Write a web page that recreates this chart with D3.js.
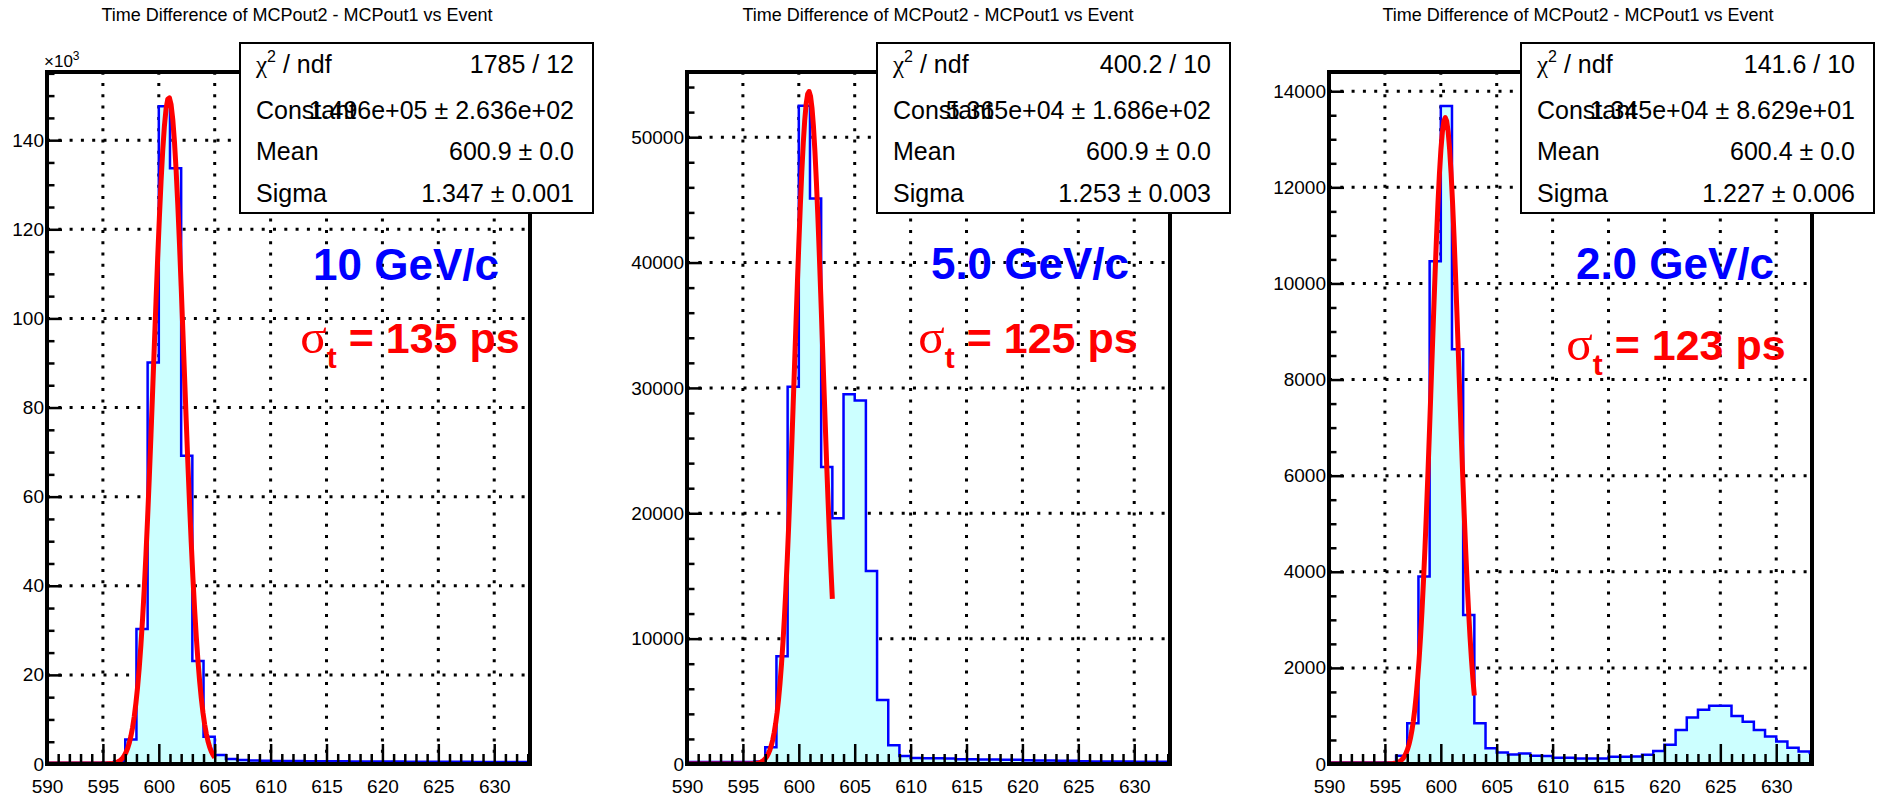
<!DOCTYPE html>
<html>
<head>
<meta charset="utf-8">
<script src="https://cdn.jsdelivr.net/npm/d3@7"></script>
<style>
  body { margin: 0; background: #fff; }
  svg text { font-family: "Liberation Sans", Arial, Helvetica, sans-serif; fill: #000; }
</style>
</head>
<body>
<div id="vis-holder"></div>
<script>
// Canvas size
const width = 1881;
const height = 796;

// ---- Data ----
// bin lower edges (width 1), 590 ... 633
const binEdges = d3.range(590, 634);

// 10 GeV/c
const counts10 = [300, 300, 300, 300, 300, 300, 600,
  5500, 30300, 90100, 147600, 133700, 69200, 23100, 6100, 2000, 1100, 900, 800, 750,
  700, 680, 650, 640, 620, 600, 590, 580, 570, 560, 550, 540, 530, 520, 510, 500,
  490, 480, 470, 460, 450, 440, 430, 430];

// 5.0 GeV/c
const counts5 = [150, 150, 150, 150, 150, 150, 200,
  1330, 8600, 30100, 52500, 45100, 23700, 19600, 29500, 29000, 15400, 5100, 1500, 640,
  480, 460, 450, 440, 380, 370, 360, 350, 340, 330, 290, 280, 270, 260, 250, 210,
  200, 200, 190, 190, 180, 180, 170, 170];

// 2.0 GeV/c
const counts2 = [30, 30, 30, 30, 30, 30, 170,
  850, 3900, 10460, 13690, 8630, 3100, 850, 330, 240, 200, 220, 170, 165,
  130, 130, 115, 115, 115, 150, 150, 155, 190, 270, 400, 710, 970, 1130, 1210, 1210,
  1000, 880, 710, 570, 470, 340, 260, 230];

// gaussian fit parameters (from the stats boxes) and fit ranges
const fitConstant = [1.496e5, 5.365e4, 1.345e4];
const fitMean = [600.9, 600.9, 600.4];
const fitSigma = [1.347, 1.253, 1.227];
const fitRange = [[590, 605], [590, 603], [590, 603]];

// stats box texts
const statChi2 = ["1785 / 12", "400.2 / 10", "141.6 / 10"];
const statConst = ["1.496e+05 \u00b1 2.636e+02", "5.365e+04 \u00b1 1.686e+02", "1.345e+04 \u00b1 8.629e+01"];
const statMean = ["600.9 \u00b1 0.0", "600.9 \u00b1 0.0", "600.4 \u00b1 0.0"];
const statSigma = ["1.347 \u00b1 0.001", "1.253 \u00b1 0.003", "1.227 \u00b1 0.006"];

// annotations
const momentumLabels = ["10 GeV/c", "5.0 GeV/c", "2.0 GeV/c"];
const timeResolution = ["135", "125", "123"];
const titleText = "Time Difference of MCPout2 - MCPout1 vs Event";

// axes
const xDomain = [590, 633.2];
const xTicks = [590, 595, 600, 605, 610, 615, 620, 625, 630];
const yMax = [155300, 55200, 14400];
const yTicks = [
  [0, 20000, 40000, 60000, 80000, 100000, 120000, 140000],
  [0, 10000, 20000, 30000, 40000, 50000],
  [0, 2000, 4000, 6000, 8000, 10000, 12000, 14000]
];
const yMinorStep = [5000, 2000, 500];

const allCounts = [counts10, counts5, counts2];

// ---- Layout ----
const frameLeft = [47, 687, 1329];
const frameW = 483;
const frameTop = 72;
const frameBottom = 764;
const boxLeft = [240, 877, 1521];
const boxW = 353;
const boxTop = 43;
const boxH = 170;
const titleX = [297, 938, 1578];
const momX = [406, 1030, 1675];
const momY = [280, 279, 279];
const resX = [410, 1028, 1676];
const resY = [353, 353, 360];

const svg = d3.select("#vis-holder")
  .append("svg")
  .attr("width", width)
  .attr("height", height)
  .attr("viewBox", [0, 0, width, height]);

svg.append("rect").attr("width", width).attr("height", height).attr("fill", "#fff");

for (let i = 0; i < 3; i++) {
  const fl = frameLeft[i];
  const counts = allCounts[i];

  const x = d3.scaleLinear().domain(xDomain).range([fl, fl + frameW]);
  const y = d3.scaleLinear().domain([0, yMax[i]]).range([frameBottom, frameTop]);

  const g = svg.append("g");

  // clip to the frame
  g.append("clipPath").attr("id", "clip" + i)
    .append("rect")
    .attr("x", fl).attr("y", frameTop)
    .attr("width", frameW).attr("height", frameBottom - frameTop);

  // title
  g.append("text")
    .attr("x", titleX[i]).attr("y", 21)
    .attr("text-anchor", "middle")
    .attr("font-size", 18)
    .text(titleText);

  // grid (below the histogram)
  const grid = g.append("g")
    .attr("stroke", "#000")
    .attr("stroke-width", 3)
    .attr("stroke-dasharray", "3 8.3");
  grid.selectAll(".vg")
    .data(xTicks.filter(d => d > xDomain[0]))
    .join("line")
      .attr("x1", d => x(d)).attr("x2", d => x(d))
      .attr("y1", frameBottom).attr("y2", frameTop);
  grid.selectAll(".hg")
    .data(yTicks[i].filter(d => d > 0))
    .join("line")
      .attr("x1", fl).attr("x2", fl + frameW)
      .attr("y1", d => y(d)).attr("y2", d => y(d));

  // histogram as a step contour
  const pts = [[x(binEdges[0]), y(0)]];
  counts.forEach((c, k) => {
    pts.push([x(binEdges[k]), y(c)]);
    pts.push([x(binEdges[k] + 1), y(c)]);
  });
  pts.push([x(binEdges[binEdges.length - 1] + 1), y(0)]);

  g.append("path")
    .attr("clip-path", `url(#clip${i})`)
    .attr("d", d3.line()(pts))
    .attr("fill", "#ccffff")
    .attr("stroke", "#0000ff")
    .attr("stroke-width", 2.5)
    .attr("stroke-linejoin", "miter");

  // gaussian fit curve
  const fx = d3.range(0, 101).map(k => fitRange[i][0] + k * (fitRange[i][1] - fitRange[i][0]) / 100);
  const fitPts = fx.map(v => [x(v), y(fitConstant[i] * Math.exp(-0.5 * Math.pow((v - fitMean[i]) / fitSigma[i], 2)))]);
  g.append("path")
    .attr("clip-path", `url(#clip${i})`)
    .attr("d", d3.line()(fitPts))
    .attr("fill", "none")
    .attr("stroke", "#ff0000")
    .attr("stroke-width", 5)
    .attr("stroke-linejoin", "round");

  // x axis: major + minor ticks pointing into the frame
  const xAxis = g.append("g")
    .attr("transform", `translate(0,${frameBottom})`)
    .call(d3.axisBottom(x).tickValues(xTicks).tickSize(-20).tickPadding(16).tickFormat(d3.format("d")));
  xAxis.select(".domain").remove();
  xAxis.attr("font-size", 19).attr("font-family", null);
  xAxis.selectAll("line").attr("stroke-width", 2.5);

  const xMinor = g.append("g")
    .attr("transform", `translate(0,${frameBottom})`)
    .call(d3.axisBottom(x).tickValues(d3.range(591, 634).filter(d => d % 5 !== 0)).tickSize(-10).tickFormat(""));
  xMinor.select(".domain").remove();
  xMinor.selectAll("line").attr("stroke-width", 2.5);

  // y axis
  const yFmt = i === 0 ? (d => d / 1000) : d3.format("d");
  const yAxis = g.append("g")
    .attr("transform", `translate(${fl},0)`)
    .call(d3.axisLeft(y).tickValues(yTicks[i]).tickSize(-15).tickPadding(3).tickFormat(yFmt));
  yAxis.select(".domain").remove();
  yAxis.attr("font-size", 19).attr("font-family", null);
  yAxis.selectAll("line").attr("stroke-width", 2.5);

  const yMinorVals = d3.range(0, yMax[i], yMinorStep[i]).filter(d => !yTicks[i].includes(d));
  const yMinor = g.append("g")
    .attr("transform", `translate(${fl},0)`)
    .call(d3.axisLeft(y).tickValues(yMinorVals).tickSize(-7.5).tickFormat(""));
  yMinor.select(".domain").remove();
  yMinor.selectAll("line").attr("stroke-width", 2.5);

  // frame
  g.append("rect")
    .attr("x", fl).attr("y", frameTop)
    .attr("width", frameW).attr("height", frameBottom - frameTop)
    .attr("fill", "none")
    .attr("stroke", "#000")
    .attr("stroke-width", 4);

  // x10^3 exponent for the first panel
  if (i === 0) {
    const ex = g.append("text").attr("x", 44).attr("y", 67).attr("font-size", 17);
    ex.append("tspan").text("\u00d710");
    ex.append("tspan").attr("dy", -7).attr("font-size", 12).text("3");
  }

  // stats box
  g.append("rect")
    .attr("x", boxLeft[i]).attr("y", boxTop)
    .attr("width", boxW).attr("height", boxH)
    .attr("fill", "#fff")
    .attr("stroke", "#000")
    .attr("stroke-width", 2);

  const rowBase = [73, 119, 160, 202];
  const lx = boxLeft[i] + 16;
  const rx = boxLeft[i] + boxW - 19;

  const chi = g.append("text").attr("x", lx).attr("y", rowBase[0]).attr("font-size", 25);
  chi.append("tspan").attr("font-family", "'Liberation Serif', serif").text("\u03c7");
  chi.append("tspan").attr("dy", -11).attr("font-size", 16).text("2");
  chi.append("tspan").attr("dy", 11).text(" / ndf");

  const labels = ["Constant", "Mean", "Sigma"];
  labels.forEach((t, k) => {
    g.append("text").attr("x", lx).attr("y", rowBase[k + 1]).attr("font-size", 25).text(t);
  });
  const values = [statChi2[i], statConst[i], statMean[i], statSigma[i]];
  values.forEach((t, k) => {
    g.append("text").attr("x", rx).attr("y", rowBase[k])
      .attr("text-anchor", "end").attr("font-size", 25).text(t);
  });

  // momentum label
  g.append("text")
    .attr("x", momX[i]).attr("y", momY[i])
    .attr("text-anchor", "middle")
    .attr("font-size", 44)
    .attr("font-weight", "bold")
    .style("fill", "#0000ff")
    .text(momentumLabels[i]);

  // time resolution label
  const res = g.append("text")
    .attr("x", resX[i]).attr("y", resY[i])
    .attr("text-anchor", "middle")
    .attr("font-size", 43)
    .attr("font-weight", "bold")
    .style("fill", "#ff0000");
  res.append("tspan").attr("font-family", "'Liberation Serif', serif").attr("font-weight", "normal")
    .attr("font-size", 49).style("fill", "#ff0000").text("\u03c3");
  res.append("tspan").attr("dy", 15).attr("font-size", 30).style("fill", "#ff0000").text("t");
  res.append("tspan").attr("dy", -15).style("fill", "#ff0000").text(" = " + timeResolution[i] + " ps");
}
</script>
</body>
</html>
